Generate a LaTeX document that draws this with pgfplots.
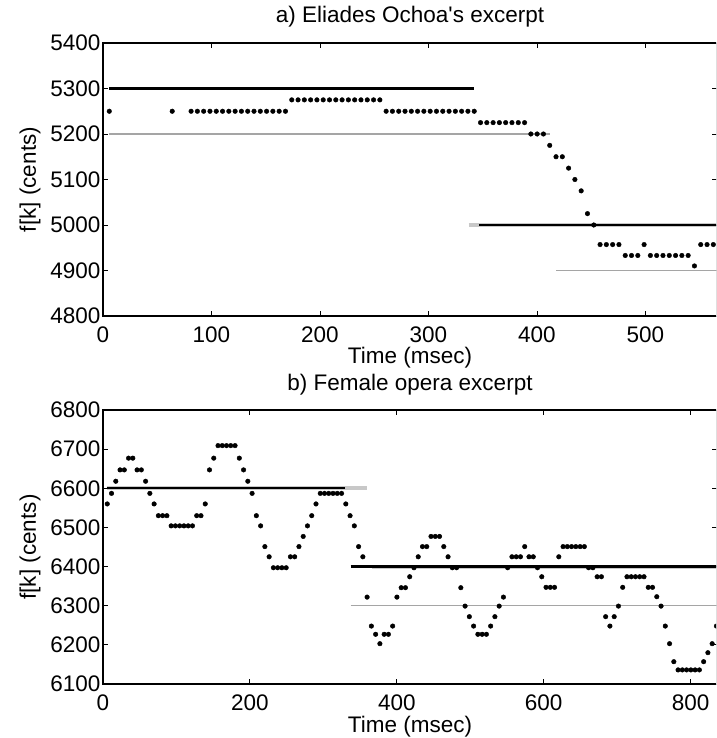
\documentclass[border=0pt]{standalone}
\usepackage{pgfplots}
\pgfplotsset{compat=1.18}
\usepackage{fontspec}
\setmainfont{Liberation Sans}
\definecolor{lgray}{RGB}{200,200,200}
\definecolor{mgray}{RGB}{165,165,165}
\pgfplotsset{
  mystyle/.style={
    scale only axis, width=614pt, anchor=south west,
    font=\fontsize{22.5}{26}\selectfont,
    tick align=inside, major tick length=5pt,
    axis line style={line width=1.2pt},
    every tick/.style={black, line width=0.8pt},
    /pgf/number format/assume math mode=true,
    /pgf/number format/1000 sep={},
    xmin=0,
    xlabel={Time (msec)}, ylabel={f[k] (cents)},
    xlabel style={at={(axis description cs:0.5,0)}, anchor=base, yshift=-48pt},
    ylabel style={at={(axis description cs:0,0.5)}, anchor=center, yshift=73pt},
    title style={at={(axis description cs:0.5,1)}, anchor=base, yshift=14pt},
    xticklabel style={yshift=-7pt},
    yticklabel style={xshift=1pt},
    mark options={solid},
  },
  dots/.style={only marks, mark=*, mark size=2.3pt, black},
}
\pgfplotstableread{
t f
5.8 5250
63.8 5250
81.2 5250
87.0 5250
92.8 5250
98.6 5250
104.4 5250
110.2 5250
116.0 5250
121.8 5250
127.6 5250
133.4 5250
139.2 5250
145.0 5250
150.8 5250
156.6 5250
162.4 5250
168.2 5250
174.0 5275
179.8 5275
185.6 5275
191.4 5275
197.2 5275
203.0 5275
208.8 5275
214.6 5275
220.4 5275
226.2 5275
232.0 5275
237.8 5275
243.6 5275
249.4 5275
255.2 5275
261.0 5250
266.8 5250
272.6 5250
278.4 5250
284.2 5250
290.0 5250
295.8 5250
301.6 5250
307.4 5250
313.2 5250
319.0 5250
324.8 5250
330.6 5250
336.4 5250
342.2 5250
348.0 5225
353.8 5225
359.6 5225
365.4 5225
371.2 5225
377.0 5225
382.8 5225
388.6 5225
394.4 5200
400.2 5200
406.0 5200
411.8 5175
417.6 5150
423.4 5150
429.2 5125
435.0 5100
440.8 5075
446.6 5025
452.4 5000
458.2 4957
464.0 4957
469.8 4957
475.6 4957
481.4 4933
487.2 4933
493.0 4933
498.8 4957
504.6 4933
510.4 4933
516.2 4933
522.0 4933
527.8 4933
533.6 4933
539.4 4933
545.2 4910
551.0 4957
556.8 4957
562.6 4957
}\tableA
\pgfplotstableread{
t f
5.8 6560
11.6 6587
17.4 6618
23.2 6647
29.0 6647
34.8 6677
40.6 6677
46.4 6647
52.2 6647
58.0 6618
63.8 6587
69.6 6560
75.4 6530
81.2 6530
87.0 6530
92.8 6504
98.6 6504
104.4 6504
110.2 6504
116.0 6504
121.8 6504
127.6 6530
133.4 6530
139.2 6560
145.0 6647
150.8 6677
156.6 6709
162.4 6709
168.2 6709
174.0 6709
179.8 6709
185.6 6677
191.4 6647
197.2 6618
203.0 6587
208.8 6530
214.6 6504
220.4 6451
226.2 6425
232.0 6397
237.8 6397
243.6 6397
249.4 6397
255.2 6425
261.0 6425
266.8 6451
272.6 6477
278.4 6504
284.2 6530
290.0 6560
295.8 6587
301.6 6587
307.4 6587
313.2 6587
319.0 6587
324.8 6587
330.6 6560
336.4 6530
342.2 6504
348.0 6451
353.8 6425
359.6 6322
365.4 6248
371.2 6227
377.0 6203
382.8 6227
388.6 6227
394.4 6248
400.2 6322
406.0 6346
411.8 6346
417.6 6374
423.4 6397
429.2 6425
435.0 6451
440.8 6451
446.6 6477
452.4 6477
458.2 6477
464.0 6451
469.8 6425
475.6 6397
481.4 6397
487.2 6346
493.0 6299
498.8 6272
504.6 6248
510.4 6227
516.2 6227
522.0 6227
527.8 6248
533.6 6272
539.4 6299
545.2 6322
551.0 6397
556.8 6425
562.6 6425
568.4 6425
574.2 6451
580.0 6425
585.8 6425
591.6 6397
597.4 6374
603.2 6347
609.0 6347
614.8 6347
620.6 6425
626.4 6451
632.2 6451
638.0 6451
643.8 6451
649.6 6451
655.4 6451
661.2 6397
667.0 6397
672.8 6374
678.6 6374
684.4 6272
690.2 6248
696.0 6272
701.8 6299
707.6 6347
713.4 6374
719.2 6374
725.0 6374
730.8 6374
736.6 6374
742.4 6347
748.2 6347
754.0 6323
759.8 6299
765.6 6248
771.4 6203
777.2 6157
783.0 6136
788.8 6136
794.6 6136
800.4 6136
806.2 6136
812.0 6136
817.8 6157
823.6 6180
829.4 6203
835.2 6248
}\tableB
\begin{document}
\begin{tikzpicture}
\path[use as bounding box] (0,0) rectangle (716pt,738pt);
\clip (0,0) rectangle (716pt,738pt);
\begin{axis}[mystyle, at={(103pt,422pt)}, height=273pt,
  xmax=566, ymin=4800, ymax=5400,
  xtick={0,100,...,500}, ytick={4800,4900,...,5400},
  title={a) Eliades Ochoa\textquotesingle s excerpt}]
  \addplot[mgray, line width=1.1pt] coordinates {(5.8,5200) (412,5200)};
  \addplot[black, line width=2.4pt] coordinates {(5.8,5300) (342,5300)};
  \addplot[lgray, line width=4pt] coordinates {(337,5000) (570,5000)};
  \addplot[black, line width=2.4pt] coordinates {(347,5000) (570,5000)};
  \addplot[mgray, line width=1.1pt] coordinates {(418,4900) (570,4900)};
  \addplot[dots] table[x=t, y=f] {\tableA};
\end{axis}
\begin{axis}[mystyle, at={(103pt,54pt)}, height=274pt,
  xmax=836, ymin=6100, ymax=6800,
  xtick={0,200,...,800}, ytick={6100,6200,...,6800},
  title={b) Female opera excerpt}]
  \addplot[lgray, line width=4pt] coordinates {(5,6600) (360,6600)};
  \addplot[black, line width=2.4pt] coordinates {(5,6600) (330,6600)};
  \addplot[mgray, line width=1.1pt] coordinates {(337,6300) (840,6300)};
  \addplot[lgray, line width=4pt] coordinates {(366,6400) (840,6400)};
  \addplot[black, line width=2.4pt] coordinates {(337,6400) (840,6400)};
  \addplot[dots] table[x=t, y=f] {\tableB};
\end{axis}
\end{tikzpicture}
\end{document}
